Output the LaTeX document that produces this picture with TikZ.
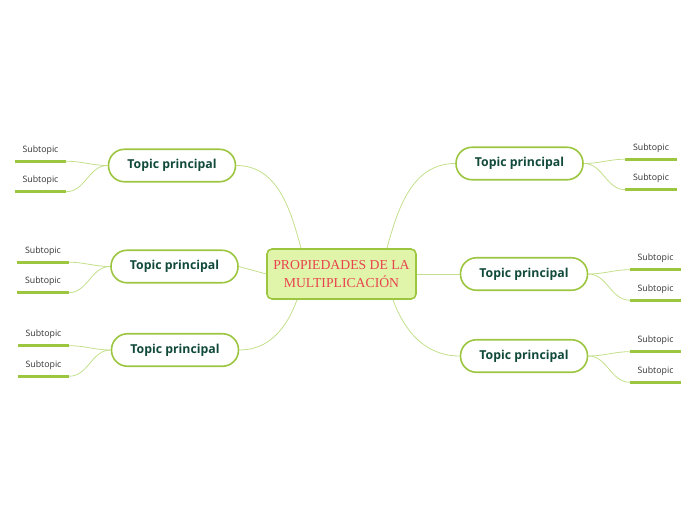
\documentclass[tikz,border=0pt]{standalone}
\usepackage{fontspec}
\setmainfont{Liberation Serif}
\newfontfamily\topicfont{Open Sans}
\usetikzlibrary{positioning}

\definecolor{leafgreen}{HTML}{9CC63F}
\definecolor{paleleaf}{HTML}{E1F5AA}
\definecolor{twig}{HTML}{C3DF8B}
\definecolor{inkgreen}{HTML}{11493A}
\definecolor{titlered}{HTML}{E8434F}

\tikzset{
  central/.style={draw=leafgreen, fill=paleleaf, line width=1.6pt, rounded corners=5pt,
    minimum width=149pt, minimum height=50pt, align=center, text=titlered,
    font=\fontsize{13.7}{18}\selectfont},
  topic/.style={draw=leafgreen, fill=white, line width=1.6pt, rounded corners=16pt,
    minimum width=127pt, minimum height=32.5pt, text=inkgreen,
    font=\topicfont\bfseries\fontsize{12.3}{14}\selectfont},
  subtopic/.style={minimum width=51pt, inner xsep=0pt, inner ysep=5pt, text height=6pt,
    text depth=4pt, text=black!80, font=\topicfont\fontsize{8.8}{10}\selectfont},
  branch/.style={draw=twig, line width=0.8pt},
  underline/.style={draw=leafgreen, line width=2.6pt}
}

\begin{document}
\begin{tikzpicture}[x=1pt,y=-1pt,on grid]
    \useasboundingbox (0,0) rectangle (696,520);
    \node[central] (main) at (341.5,274) {PROPIEDADES DE LA\\MULTIPLICACIÓN};
    % topics
    \node[topic] (t1) [above left=108.5pt and 169.5pt of main] {Topic principal};
    \node[topic] (t2) [above left=7.5pt and 167pt of main] {Topic principal};
    \node[topic] (t3) [below left=76pt and 166.5pt of main] {Topic principal};
    \node[topic] (t4) [above right=110.5pt and 178pt of main] {Topic principal};
    \node[topic] (t5) [right=182.5pt of main] {Topic principal};
    \node[topic] (t6) [below right=82pt and 182.5pt of main] {Topic principal};
    % subtopics
    \node[subtopic] (s11) [above left=14.5pt and 131.5pt of t1] {Subtopic};
    \node[subtopic] (s12) [below left=16pt and 131.5pt of t1] {Subtopic};
    \node[subtopic] (s21) [above left=14.5pt and 131.5pt of t2] {Subtopic};
    \node[subtopic] (s22) [below left=16pt and 131.5pt of t2] {Subtopic};
    \node[subtopic] (s31) [above left=14.5pt and 131.5pt of t3] {Subtopic};
    \node[subtopic] (s32) [below left=16pt and 131.5pt of t3] {Subtopic};
    \node[subtopic] (s41) [above right=14.5pt and 131.5pt of t4] {Subtopic};
    \node[subtopic] (s42) [below right=16pt and 131.5pt of t4] {Subtopic};
    \node[subtopic] (s51) [above right=14.5pt and 131.5pt of t5] {Subtopic};
    \node[subtopic] (s52) [below right=16pt and 131.5pt of t5] {Subtopic};
    \node[subtopic] (s61) [above right=14.5pt and 131.5pt of t6] {Subtopic};
    \node[subtopic] (s62) [below right=16pt and 131.5pt of t6] {Subtopic};
    \foreach \s in {s11,s12,s21,s22,s31,s32,s41,s42,s51,s52,s61,s62}
      \draw[underline] (\s.south west) -- (\s.south east);
    \path[branch]
      ([xshift=-40.5pt]main.north) edge[out=105,in=0] (t1.east)
      (main.west) edge (t2.east)
      ([xshift=-44.5pt]main.south) edge[out=250,in=0] (t3.east)
      ([xshift=45.5pt]main.north) edge[out=75,in=180] (t4.west)
      (main.east) edge (t5.west)
      ([xshift=51.5pt]main.south) edge[out=290,in=180] (t6.west)
      (t1.west) edge[out=180,in=0] (s11.south east)
                edge[out=180,in=0] (s12.south east)
      (t2.west) edge[out=180,in=0] (s21.south east)
                edge[out=180,in=0] (s22.south east)
      (t3.west) edge[out=180,in=0] (s31.south east)
                edge[out=180,in=0] (s32.south east)
      (t4.east) edge[out=0,in=180] (s41.south west)
                edge[out=0,in=180] (s42.south west)
      (t5.east) edge[out=0,in=180] (s51.south west)
                edge[out=0,in=180] (s52.south west)
      (t6.east) edge[out=0,in=180] (s61.south west)
                edge[out=0,in=180] (s62.south west);
  \end{tikzpicture}
\end{document}
